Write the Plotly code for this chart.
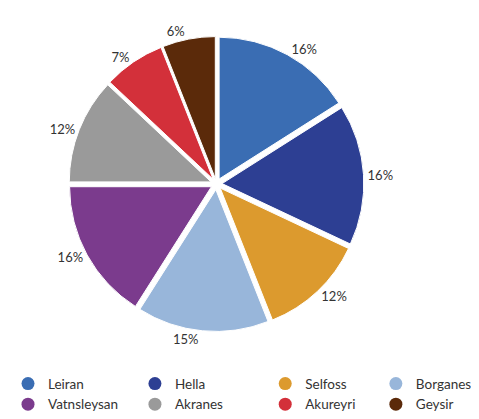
import plotly.graph_objects as go

labels = ["Leiran", "Hella", "Selfoss", "Borganes", "Vatnsleysan", "Akranes", "Akureyri", "Geysir"]
values = [16, 16, 12, 15, 16, 12, 7, 6]
colors = ["#3a6db3", "#2d3f93", "#dc9a2e", "#98b6da", "#7b3b8d", "#9a9a9a", "#d3303a", "#5b2a0a"]
legend_cols = ["legend", "legend2", "legend3", "legend4", "legend", "legend2", "legend3", "legend4"]

fig = go.Figure()
fig.add_trace(go.Pie(
    labels=labels, values=values, sort=False, direction="clockwise", rotation=0,
    marker=dict(colors=colors, line=dict(color="white", width=1)),
    pull=[0.04] * len(values),
    texttemplate="%{value}%", textposition="outside",
    textfont=dict(family="Lato", size=13, color="#333333"),
    showlegend=False,
    domain=dict(x=[0.125, 0.745], y=[0.228, 0.932]),
))
for lab, col, lg in zip(labels, colors, legend_cols):
    fig.add_trace(go.Scatter(x=[None], y=[None], mode="markers", name=lab, legend=lg,
                             marker=dict(symbol="circle", size=13, color=col)))

common = dict(orientation="v", yanchor="top", xanchor="left", y=0.14,
              font=dict(family="Lato", size=13.5, color="#333333"),
              itemwidth=30, tracegroupgap=0, bgcolor="rgba(0,0,0,0)")
fig.update_layout(
    width=479, height=419, margin=dict(l=0, r=0, t=0, b=0),
    paper_bgcolor="white", plot_bgcolor="white",
    xaxis=dict(visible=False), yaxis=dict(visible=False),
    legend=dict(x=0.0, **common),
    legend2=dict(x=0.265, **common),
    legend3=dict(x=0.537, **common),
    legend4=dict(x=0.768, **common),
)
fig.write_html("out.html")
